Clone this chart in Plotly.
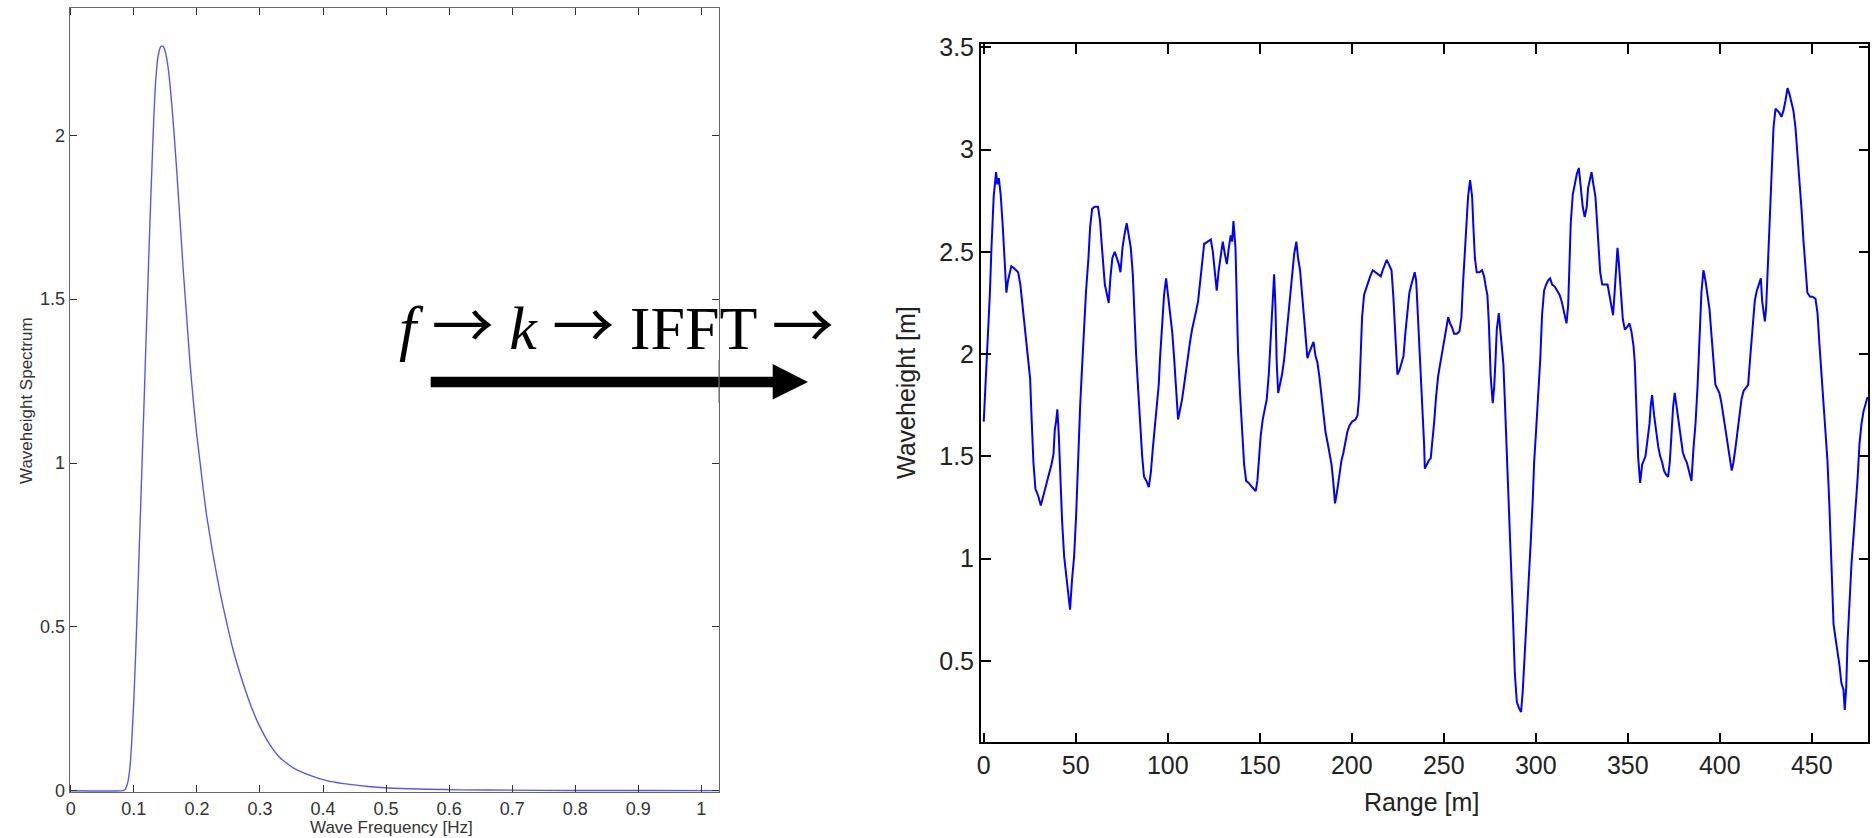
import plotly.graph_objects as go

# ---------------- data ----------------
spec_freq = [0.0, 0.08, 0.0857, 0.090, 0.0937, 0.0968, 0.100, 0.1032, 0.1063, 0.1095,
             0.1127, 0.1159, 0.119, 0.1222, 0.1254, 0.1286, 0.1317, 0.1349, 0.1386, 0.1429,
             0.1466, 0.1503, 0.1545, 0.1587, 0.1630, 0.1677, 0.1730, 0.1783, 0.1836, 0.1889,
             0.1942, 0.1995, 0.2048, 0.2101, 0.2153, 0.2259, 0.2365, 0.2471, 0.2577, 0.2683,
             0.2788, 0.2894, 0.3000, 0.3159, 0.3317, 0.3529, 0.3794, 0.4058, 0.4323, 0.4587,
             0.4852, 0.5116, 0.5645, 0.6175, 0.70, 0.80, 0.90, 1.03]
spec_value = [0.0, 0.0, 0.003, 0.023, 0.07, 0.156, 0.28, 0.436, 0.607, 0.794,
              0.981, 1.168, 1.355, 1.542, 1.729, 1.900, 2.056, 2.173, 2.243, 2.271,
              2.271, 2.251, 2.204, 2.126, 2.025, 1.900, 1.745, 1.589, 1.449, 1.308,
              1.192, 1.090, 1.005, 0.919, 0.841, 0.717, 0.607, 0.514, 0.428, 0.358,
              0.296, 0.241, 0.195, 0.140, 0.101, 0.070, 0.047, 0.031, 0.022, 0.016,
              0.011, 0.008, 0.005, 0.003, 0.002, 0.001, 0.001, 0.0005]

range_m = [
    0.0, 0.5, 1.5, 2.4, 3.3, 4.2, 5.4, 6.7, 7.4, 8.2, 9.2, 10.3, 11.4, 12.3, 13.2, 14.0, 15.0, 16.5,
    18.7, 19.9, 21.0, 22.3, 23.2, 24.1, 25.2, 25.9, 27.0, 28.1, 29.5, 31.0, 32.4, 33.9, 35.3, 36.8,
    37.9, 38.6, 39.3, 40.0, 40.8, 41.5, 42.6, 43.7, 44.8, 46.0, 46.9, 48.0, 49.1, 50.2, 51.3, 52.4,
    53.4, 54.5, 55.6, 56.9, 57.8, 58.9, 60.3, 62.1, 63.2, 64.0, 64.9, 65.8, 67.0, 67.9, 68.8, 69.9,
    71.2, 72.3, 73.4, 74.3, 75.4, 76.6, 77.7, 78.8, 79.9, 81.0, 81.7, 82.8, 83.9, 85.0, 86.1, 87.1,
    88.4, 89.7, 90.8, 91.9, 92.9, 94.0, 95.1, 95.8, 96.9, 98.0, 99.1, 100.2, 101.3, 102.4, 103.4,
    104.5, 105.6, 106.7, 107.8, 108.9, 110.0, 111.1, 112.1, 113.2, 114.3, 115.4, 116.5, 117.6,
    118.7, 119.8,
    120.1, 121.6, 123.4, 124.5, 125.5, 126.6, 127.7, 128.8, 129.9, 131.0, 132.1, 133.2, 134.2,
    135.0, 135.7, 136.8, 137.5, 138.2, 139.3, 140.4, 141.5, 142.6, 144.0, 145.8, 147.8, 148.7,
    149.5, 150.5, 151.6, 152.7, 153.8, 154.9, 156.0, 156.9, 157.8, 158.5, 159.2, 160.0, 161.1,
    162.1, 163.2, 164.3, 165.4, 166.5, 167.6, 168.7, 169.9, 170.8, 171.9, 173.0, 174.1, 175.2,
    175.9, 177.0, 178.1, 179.2, 180.3, 181.3, 182.4, 183.5, 184.6, 185.7, 186.8, 187.9, 189.0,
    189.9, 190.9, 192.2, 193.3, 194.4, 195.5, 196.6, 197.6, 198.7, 200.2, 202.0, 203.1, 204.0,
    204.9, 205.6, 206.7, 207.8, 208.9, 210.0, 211.4, 212.9, 214.3, 215.8, 216.8, 217.9, 219.0,
    220.1, 221.6, 222.6, 223.4, 224.1, 224.8, 225.9, 227.0, 228.1, 229.2, 230.3, 231.3, 232.4,
    233.5, 234.2, 235.0, 236.1, 237.1, 238.2, 239.3,
    239.7, 240.8, 241.9, 242.9, 243.7, 244.8, 245.8, 246.9, 248.0, 249.1, 250.2, 251.3, 252.4,
    253.4, 254.5, 255.6, 257.1, 258.5, 259.6, 260.3, 261.4, 262.3, 263.2, 264.3, 265.4, 266.1,
    266.9, 267.9, 269.4, 270.8, 271.9, 273.0, 273.7, 274.5, 275.5, 276.6, 277.4, 278.1, 278.8,
    279.9, 280.6, 281.7, 282.4, 283.2, 284.2, 285.3, 286.4, 287.5, 288.6, 289.7, 290.8, 292.0,
    292.9, 294.0, 295.1, 296.2, 297.3, 298.4, 299.1, 300.2, 301.3, 302.4, 303.4, 304.5, 305.6,
    306.7, 307.8, 308.9, 310.3, 311.8, 312.9, 314.0, 315.0, 316.1, 316.7, 317.6, 318.3, 319.0,
    320.1, 321.2, 322.3, 323.4, 324.5, 325.5, 326.6, 327.7, 328.4, 329.2, 330.3, 331.3, 332.4,
    333.2, 333.9, 335.0, 336.1, 337.5, 339.0, 340.0, 341.1, 342.0, 342.9, 343.7, 344.4, 345.1,
    346.2, 347.3, 348.4, 349.5, 350.9, 352.0, 353.1, 353.8, 354.5, 355.6, 356.7, 357.8,
    359.6, 360.7, 361.8, 362.5, 363.2, 364.3, 365.4, 366.5, 367.6, 368.7, 369.7, 370.8, 371.9,
    372.8, 373.7, 374.6, 375.5, 376.6, 377.7, 378.8, 379.9, 381.0, 382.1, 383.2, 384.6, 385.7,
    386.8, 387.9, 388.9, 390.0, 391.1, 392.2, 393.3, 394.4, 395.5, 396.6, 397.6, 398.7, 399.8,
    400.9, 402.0, 403.1, 404.2, 405.3, 406.5, 407.4, 408.5, 409.6, 410.7, 411.8, 412.9, 413.9,
    415.4, 416.5, 417.6, 418.3, 419.0, 420.1, 421.2, 422.3, 423.0, 423.7, 424.5, 425.2, 425.9,
    426.6, 427.4, 428.1, 429.2, 430.3, 431.3, 432.4, 433.5, 434.6, 435.7, 436.8, 437.9, 438.9,
    440.0, 441.1, 442.2, 443.3, 444.4, 445.5, 446.6, 447.6, 449.1, 450.5, 452.0, 453.1, 454.2,
    455.3, 456.3, 457.4, 458.5, 459.6, 460.7, 461.8, 462.9, 463.9, 465.0, 466.1, 467.2, 467.9,
    468.7, 469.4, 470.5, 471.6, 472.6, 473.7, 474.8, 475.9, 477.0, 478.1, 479.2, 480.3]

waveheight = [
    1.67, 1.76, 1.91, 2.07, 2.29, 2.52, 2.77, 2.89, 2.83, 2.86, 2.78, 2.63, 2.41, 2.30, 2.36, 2.40, 2.43, 2.42,
    2.40, 2.34, 2.24, 2.14, 2.05, 1.96, 1.88, 1.71, 1.47, 1.34, 1.31, 1.26, 1.31, 1.35, 1.40, 1.46,
    1.51, 1.63, 1.67, 1.73, 1.60, 1.40, 1.18, 1.01, 0.91, 0.82, 0.75, 0.90, 1.01, 1.21, 1.51, 1.75,
    1.93, 2.13, 2.31, 2.47, 2.62, 2.71, 2.72, 2.72, 2.65, 2.55, 2.44, 2.34, 2.29, 2.25, 2.37, 2.47,
    2.50, 2.47, 2.44, 2.40, 2.52, 2.59, 2.64, 2.58, 2.52, 2.39, 2.20, 2.00, 1.83, 1.65, 1.50, 1.40,
    1.38, 1.35, 1.42, 1.54, 1.65, 1.76, 1.85, 1.98, 2.13, 2.29, 2.37, 2.29, 2.21, 2.11, 1.99,
    1.85, 1.68, 1.73, 1.78, 1.85, 1.93, 1.99, 2.06, 2.12, 2.16, 2.21, 2.26, 2.36,
    2.45, 2.54,
    2.54, 2.55, 2.56, 2.50, 2.42, 2.31, 2.41, 2.49, 2.55, 2.49, 2.44, 2.52, 2.58,
    2.55, 2.65, 2.52, 2.26, 2.01, 1.80, 1.63, 1.46, 1.38, 1.37, 1.35, 1.33, 1.38,
    1.49, 1.60, 1.68, 1.74, 1.78, 1.90, 2.09, 2.29, 2.39, 2.24, 1.96, 1.81, 1.85,
    1.90, 1.97, 2.07, 2.17, 2.28, 2.38, 2.49, 2.55, 2.47, 2.41, 2.30, 2.17, 2.04,
    1.98, 2.01, 2.04, 2.06, 1.99, 1.96, 1.89, 1.81, 1.70, 1.62, 1.57, 1.51, 1.46,
    1.38, 1.27, 1.34, 1.42, 1.48, 1.52, 1.57, 1.62, 1.65, 1.67, 1.68, 1.70, 1.79,
    1.99, 2.18, 2.29, 2.32, 2.36, 2.38, 2.41, 2.40, 2.39, 2.38, 2.41, 2.44, 2.46,
    2.44, 2.41, 2.28, 2.13, 2.01, 1.90, 1.92, 1.95, 1.99, 2.11, 2.21, 2.30, 2.34,
    2.38, 2.40, 2.36, 2.17, 1.99, 1.78, 1.56,
    1.44, 1.46, 1.48, 1.49, 1.56, 1.67, 1.79, 1.89, 1.95, 2.01, 2.08, 2.14, 2.18,
    2.15, 2.13, 2.10, 2.10, 2.11, 2.18, 2.32, 2.47, 2.62, 2.77, 2.85, 2.77, 2.62,
    2.47, 2.40, 2.40, 2.41, 2.38, 2.32, 2.29, 2.15, 1.89, 1.76, 1.84, 1.97, 2.12,
    2.20, 2.13, 2.04, 1.95, 1.77, 1.54, 1.30, 1.02, 0.74, 0.44, 0.30, 0.27, 0.25,
    0.35, 0.52, 0.70, 0.90, 1.09, 1.30, 1.47, 1.63, 1.79, 1.97, 2.19, 2.31, 2.34,
    2.36, 2.37, 2.34, 2.33, 2.31, 2.29, 2.26, 2.22, 2.18, 2.15, 2.24, 2.45, 2.64,
    2.78, 2.83, 2.88, 2.91, 2.80, 2.72, 2.67, 2.72, 2.81, 2.85, 2.89, 2.83, 2.77,
    2.66, 2.54, 2.40, 2.34, 2.34, 2.34, 2.29, 2.23, 2.19, 2.31, 2.45, 2.52, 2.45,
    2.31, 2.17, 2.12, 2.13, 2.15, 2.11, 2.04, 1.96, 1.78, 1.50, 1.37, 1.46,
    1.50, 1.57, 1.66, 1.75, 1.80, 1.70, 1.62, 1.55, 1.50, 1.47, 1.43, 1.41, 1.40,
    1.47, 1.60, 1.74, 1.81, 1.74, 1.66, 1.58, 1.52, 1.49, 1.47, 1.43, 1.38, 1.54,
    1.66, 1.84, 2.06, 2.30, 2.41, 2.36, 2.29, 2.22, 2.09, 1.95, 1.85, 1.83, 1.81,
    1.76, 1.70, 1.63, 1.56, 1.50, 1.43, 1.47, 1.54, 1.62, 1.70, 1.78, 1.82, 1.83,
    1.85, 1.98, 2.11, 2.20, 2.26, 2.31, 2.34, 2.37, 2.26, 2.22, 2.16, 2.23, 2.39,
    2.55, 2.73, 2.91, 3.11, 3.20, 3.19, 3.18, 3.16, 3.19, 3.24, 3.30, 3.27, 3.23,
    3.19, 3.11, 2.98, 2.86, 2.71, 2.55, 2.40, 2.30, 2.28, 2.28, 2.27, 2.20, 2.04,
    1.90, 1.76, 1.63, 1.48, 1.25, 0.90, 0.68, 0.61, 0.55, 0.48, 0.39, 0.36, 0.26,
    0.37, 0.59, 0.82, 0.98, 1.10, 1.22, 1.38, 1.56, 1.66, 1.72, 1.76, 1.79]

spec_xticks = [0, 0.1, 0.2, 0.3, 0.4, 0.5, 0.6, 0.7, 0.8, 0.9, 1.0]
spec_xlabels = ["0", "0.1", "0.2", "0.3", "0.4", "0.5", "0.6", "0.7", "0.8", "0.9", "1"]
spec_yticks = [0, 0.5, 1, 1.5, 2]
spec_ylabels = ["0", "0.5", "1", "1.5", "2"]
range_ticks = [0, 50, 100, 150, 200, 250, 300, 350, 400, 450]
range_labels = [str(v) for v in range_ticks]
height_ticks = [0.5, 1, 1.5, 2, 2.5, 3, 3.5]
height_labels = ["0.5", "1", "1.5", "2", "2.5", "3", "3.5"]

W, H = 1876, 838
SANS = "Liberation Sans, Arial, sans-serif"

fig = go.Figure()
fig.add_trace(go.Scatter(x=spec_freq, y=spec_value, mode="lines",
                         line=dict(color="rgb(85,85,255)", width=1.4, shape="spline", smoothing=0.5),
                         xaxis="x", yaxis="y", hoverinfo="skip"))
fig.add_trace(go.Scatter(x=range_m, y=waveheight, mode="lines",
                         line=dict(color="#0000ff", width=2),
                         xaxis="x2", yaxis="y2", hoverinfo="skip"))

def px_x(p):
    return p / W

def px_y(p):
    return 1 - p / H

left_axis_common = dict(showline=True, linecolor="#666666", linewidth=1.2, mirror="ticks",
                        ticks="inside", ticklen=7, tickcolor="#333333", tickwidth=1.2,
                        showgrid=False, zeroline=False, automargin=False,
                        tickfont=dict(family=SANS, size=18, color="#333333"))
right_axis_common = dict(showline=True, linecolor="#000000", linewidth=1.6, mirror="ticks",
                         ticks="inside", ticklen=10, tickcolor="#000000", tickwidth=1.6,
                         showgrid=False, zeroline=False, automargin=False,
                         tickfont=dict(family=SANS, size=25, color="#222222"))

fig.update_layout(
    width=W, height=H, autosize=False,
    margin=dict(l=0, r=0, t=0, b=0, pad=0),
    paper_bgcolor="white", plot_bgcolor="white", showlegend=False,
    xaxis=dict(domain=[px_x(69.8), px_x(719.0)], range=[-0.0016, 1.028],
               tickvals=spec_xticks, ticktext=spec_xlabels, anchor="y", **left_axis_common),
    yaxis=dict(domain=[px_y(792.3), px_y(7.7)], range=[-0.0045, 2.389],
               tickvals=spec_yticks, ticktext=spec_ylabels, anchor="x", **left_axis_common),
    xaxis2=dict(domain=[px_x(980.8), px_x(1868.3)], range=[-1.6, 480.7],
                tickvals=range_ticks, ticktext=range_labels, anchor="y2", **right_axis_common),
    yaxis2=dict(domain=[px_y(742.3), px_y(44.0)], range=[0.102, 3.516],
                tickvals=height_ticks, ticktext=height_labels, anchor="x2", **right_axis_common),
)

# axis titles
title_left = dict(family=SANS, size=17, color="#333333")
title_right = dict(family=SANS, size=25, color="#222222")
fig.add_annotation(text="Wave Frequency [Hz]", xref="paper", yref="paper", x=px_x(391), y=px_y(827),
                   xanchor="center", yanchor="middle", showarrow=False, font=title_left)
fig.add_annotation(text="Waveheight Spectrum", xref="paper", yref="paper", x=px_x(26), y=px_y(401),
                   xanchor="center", yanchor="middle", showarrow=False, textangle=-90, font=title_left)
fig.add_annotation(text="Range [m]", xref="paper", yref="paper", x=px_x(1421), y=px_y(802),
                   xanchor="center", yanchor="middle", showarrow=False, font=title_right)
fig.add_annotation(text="Waveheight [m]", xref="paper", yref="paper", x=px_x(906), y=px_y(393),
                   xanchor="center", yanchor="middle", showarrow=False, textangle=-90, font=title_right)

# process arrow (decoration): thick shaft with a triangular head
shaft_top, shaft_bot = 376.7, 387.3
x0, xb, xt = 430.7, 772.7, 808.0
head_top, head_bot, ymid = 364.0, 399.5, 382.0
path = ("M {a},{b} L {c},{b} L {c},{d} L {e},{f} L {c},{g} L {c},{h} L {a},{h} Z").format(
    a=px_x(x0), b=px_y(shaft_top), c=px_x(xb), d=px_y(head_top), e=px_x(xt), f=px_y(ymid),
    g=px_y(head_bot), h=px_y(shaft_bot))
fig.add_shape(type="path", path=path, xref="paper", yref="paper",
              fillcolor="black", line=dict(color="black", width=0), layer="above")
# the left frame's right edge shows through the arrow in the reference
fig.add_shape(type="line", xref="paper", yref="paper", x0=px_x(719.0), x1=px_x(719.0),
              y0=px_y(360), y1=px_y(403), line=dict(color="#777777", width=1.2), layer="above")

arrow = '<span style="font-family:Noto Sans CJK JP">\u2192</span>'
fig.add_annotation(text="<i>f</i> " + arrow + " <i>k</i> " + arrow + " IFFT " + arrow,
                   xref="paper", yref="paper",
                   x=px_x(616), y=px_y(322), xanchor="center", yanchor="middle", showarrow=False,
                   font=dict(family="Liberation Serif, Times New Roman, serif", size=62, color="black"))

fig.write_html("out.html", include_plotlyjs=True, config={"displayModeBar": False})
